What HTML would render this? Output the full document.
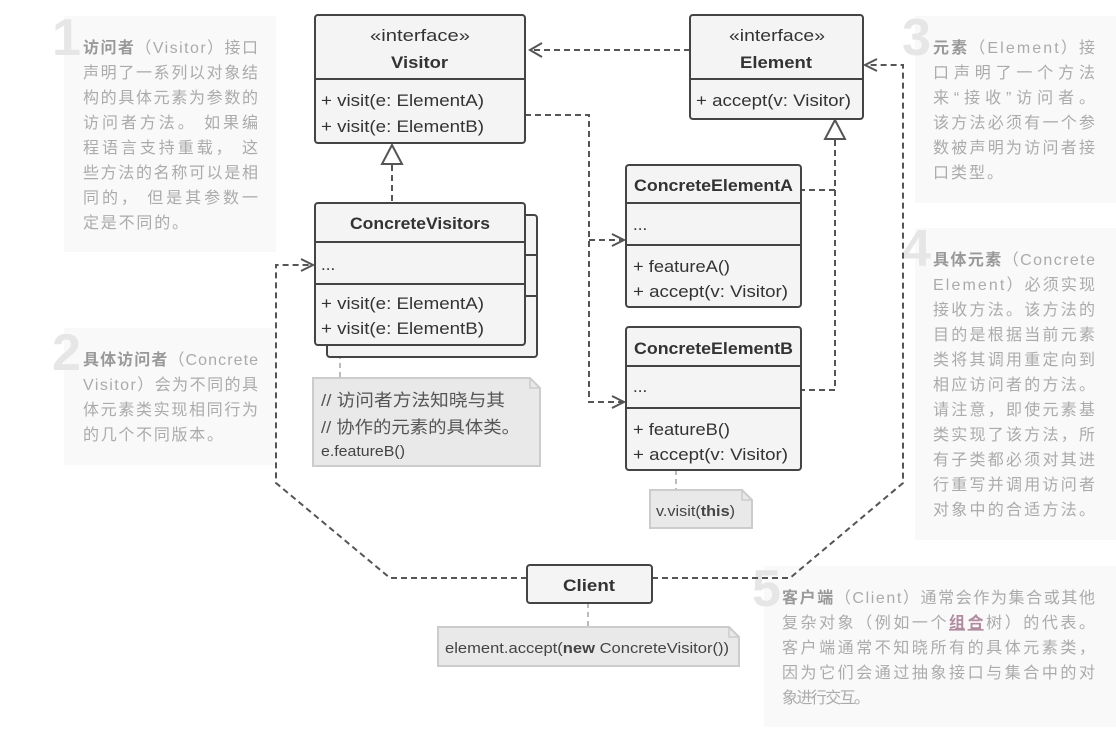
<!DOCTYPE html>
<html><head><meta charset="utf-8"><style>
html,body{margin:0;padding:0;background:#fff;}
svg{display:block;}
.t{font-family:"Liberation Sans","Noto Sans CJK SC",sans-serif;}
.box{fill:#f4f4f4;stroke:#444;stroke-width:2;}
.dl{fill:none;stroke:#555;stroke-width:2;stroke-dasharray:6 4;}
.pt{font-size:16px;fill:#ababab;}
.pb{font-weight:bold;fill:#999;}
.num{font-size:52px;font-weight:bold;fill:#e6e6e6;font-family:"Liberation Sans",sans-serif;}
.bx{font-size:17px;fill:#333;}
</style></head><body>
<svg width="1116" height="747" viewBox="0 0 1116 747" xmlns="http://www.w3.org/2000/svg" class="t">
<!-- panels -->
<rect x="64" y="16" width="212" height="236" fill="#f9f9f9"/>
<rect x="64" y="328" width="212" height="137" fill="#f9f9f9"/>
<rect x="915" y="16" width="201" height="187" fill="#f9f9f9"/>
<rect x="915" y="228" width="201" height="312" fill="#f9f9f9"/>
<rect x="764" y="566" width="352" height="161" fill="#f9f9f9"/>
<text class="num" x="52" y="55">1</text>
<text class="num" x="52" y="370">2</text>
<text class="num" x="902" y="55">3</text>
<text class="num" x="902" y="266">4</text>
<text class="num" x="752" y="606">5</text>

<g class="pt">
<text x="83" y="53" textLength="175" lengthAdjust="spacing"><tspan class="pb">访问者</tspan>（Visitor）接口</text>
<text x="83" y="78" textLength="175" lengthAdjust="spacing">声明了一系列以对象结</text>
<text x="83" y="103" textLength="175" lengthAdjust="spacing">构的具体元素为参数的</text>
<text x="83" y="128" textLength="175" lengthAdjust="spacing">访问者方法。 如果编</text>
<text x="83" y="153" textLength="175" lengthAdjust="spacing">程语言支持重载， 这</text>
<text x="83" y="178" textLength="175" lengthAdjust="spacing">些方法的名称可以是相</text>
<text x="83" y="203" textLength="175" lengthAdjust="spacing">同的， 但是其参数一</text>
<text x="83" y="228" textLength="105" lengthAdjust="spacing">定是不同的。</text>

<text x="83" y="365" textLength="175" lengthAdjust="spacing"><tspan class="pb">具体访问者</tspan>（Concrete</text>
<text x="83" y="390" textLength="175" lengthAdjust="spacing">Visitor）会为不同的具</text>
<text x="83" y="415" textLength="175" lengthAdjust="spacing">体元素类实现相同行为</text>
<text x="83" y="440" textLength="140" lengthAdjust="spacing">的几个不同版本。</text>

<text x="933" y="53" textLength="162" lengthAdjust="spacing"><tspan class="pb">元素</tspan>（Element）接</text>
<text x="933" y="78" textLength="162" lengthAdjust="spacing">口声明了一个方法</text>
<text x="933" y="103" textLength="162" lengthAdjust="spacing">来“接收”访问者。</text>
<text x="933" y="128" textLength="162" lengthAdjust="spacing">该方法必须有一个参</text>
<text x="933" y="153" textLength="162" lengthAdjust="spacing">数被声明为访问者接</text>
<text x="933" y="178" textLength="70" lengthAdjust="spacing">口类型。</text>

<text x="933" y="265" textLength="162" lengthAdjust="spacing"><tspan class="pb">具体元素</tspan>（Concrete</text>
<text x="933" y="290" textLength="162" lengthAdjust="spacing">Element）必须实现</text>
<text x="933" y="315" textLength="162" lengthAdjust="spacing">接收方法。该方法的</text>
<text x="933" y="340" textLength="162" lengthAdjust="spacing">目的是根据当前元素</text>
<text x="933" y="365" textLength="162" lengthAdjust="spacing">类将其调用重定向到</text>
<text x="933" y="390" textLength="162" lengthAdjust="spacing">相应访问者的方法。</text>
<text x="933" y="415" textLength="162" lengthAdjust="spacing">请注意，即使元素基</text>
<text x="933" y="440" textLength="162" lengthAdjust="spacing">类实现了该方法，所</text>
<text x="933" y="465" textLength="162" lengthAdjust="spacing">有子类都必须对其进</text>
<text x="933" y="490" textLength="162" lengthAdjust="spacing">行重写并调用访问者</text>
<text x="933" y="515" textLength="162" lengthAdjust="spacing">对象中的合适方法。</text>

<text x="782" y="603" textLength="313" lengthAdjust="spacing"><tspan class="pb">客户端</tspan>（Client）通常会作为集合或其他</text>
<text x="782" y="628" textLength="313" lengthAdjust="spacing">复杂对象（例如一个<tspan font-weight="bold" fill="#b08aa0" text-decoration="underline">组合</tspan>树）的代表。</text>
<text x="782" y="653" textLength="313" lengthAdjust="spacing">客户端通常不知晓所有的具体元素类，</text>
<text x="782" y="678" textLength="313" lengthAdjust="spacing">因为它们会通过抽象接口与集合中的对</text>
<text x="782" y="703" textLength="88" lengthAdjust="spacing">象进行交互。</text>
</g>

<!-- connectors -->
<path class="dl" d="M690 50 H530"/>
<path d="M542 43 L530 50 L542 57" fill="none" stroke="#555" stroke-width="2"/>
<path class="dl" d="M392 165 V203"/>
<path d="M392 145 L382 164 H402 Z" fill="#fff" stroke="#555" stroke-width="2"/>
<path class="dl" d="M835 140 V390 H802 M835 190 H802"/>
<path d="M835 120 L825 139 H845 Z" fill="#fff" stroke="#555" stroke-width="2"/>
<path class="dl" d="M525 115 H589 V402 H622 M589 240 H622"/>
<path d="M612 234 L624 240 L612 246 M612 396 L624 402 L612 408" fill="none" stroke="#555" stroke-width="2"/>
<path class="dl" d="M527 578 H390 L276 483 V265 H311"/>
<path d="M301 259 L313 265 L301 271" fill="none" stroke="#555" stroke-width="2"/>
<path class="dl" d="M652 578 H790 L903 483 V65 H867"/>
<path d="M877 59 L865 65 L877 71" fill="none" stroke="#555" stroke-width="2"/>
<path d="M340 345 V378 M676 470 V490 M588 603 V627" stroke="#bbb" stroke-width="2" stroke-dasharray="5 4"/>

<!-- Visitor -->
<rect class="box" x="315" y="15" width="210" height="128" rx="3"/>
<line x1="315" y1="79" x2="525" y2="79" stroke="#444" stroke-width="2"/>
<text class="bx" x="370" y="41" textLength="100" lengthAdjust="spacingAndGlyphs">«interface»</text>
<text class="bx" x="391" y="68" textLength="57" lengthAdjust="spacingAndGlyphs" font-weight="bold">Visitor</text>
<text class="bx" x="321" y="106" textLength="163" lengthAdjust="spacingAndGlyphs">+ visit(e: ElementA)</text>
<text class="bx" x="321" y="132" textLength="163" lengthAdjust="spacingAndGlyphs">+ visit(e: ElementB)</text>

<!-- Element -->
<rect class="box" x="690" y="15" width="173" height="104" rx="3"/>
<line x1="690" y1="79" x2="863" y2="79" stroke="#444" stroke-width="2"/>
<text class="bx" x="729" y="41" textLength="96" lengthAdjust="spacingAndGlyphs">«interface»</text>
<text class="bx" x="740" y="68" textLength="72" lengthAdjust="spacingAndGlyphs" font-weight="bold">Element</text>
<text class="bx" x="696" y="106" textLength="155" lengthAdjust="spacingAndGlyphs">+ accept(v: Visitor)</text>

<!-- ConcreteVisitors -->
<rect class="box" x="327" y="215" width="210" height="142" rx="3"/>
<line x1="525" y1="255" x2="537" y2="255" stroke="#444" stroke-width="2"/>
<line x1="525" y1="296" x2="537" y2="296" stroke="#444" stroke-width="2"/>
<rect class="box" x="315" y="203" width="210" height="142" rx="3"/>
<line x1="315" y1="242" x2="525" y2="242" stroke="#444" stroke-width="2"/>
<line x1="315" y1="284" x2="525" y2="284" stroke="#444" stroke-width="2"/>
<text class="bx" x="350" y="229" textLength="140" lengthAdjust="spacingAndGlyphs" font-weight="bold">ConcreteVisitors</text>
<text class="bx" x="321" y="270">...</text>
<text class="bx" x="321" y="309" textLength="163" lengthAdjust="spacingAndGlyphs">+ visit(e: ElementA)</text>
<text class="bx" x="321" y="334" textLength="163" lengthAdjust="spacingAndGlyphs">+ visit(e: ElementB)</text>

<!-- ConcreteElementA -->
<rect class="box" x="626" y="165" width="175" height="142" rx="3"/>
<line x1="626" y1="203" x2="801" y2="203" stroke="#444" stroke-width="2"/>
<line x1="626" y1="245" x2="801" y2="245" stroke="#444" stroke-width="2"/>
<text class="bx" x="634" y="191" textLength="159" lengthAdjust="spacingAndGlyphs" font-weight="bold">ConcreteElementA</text>
<text class="bx" x="633" y="230">...</text>
<text class="bx" x="633" y="272" textLength="97" lengthAdjust="spacingAndGlyphs">+ featureA()</text>
<text class="bx" x="633" y="297" textLength="155" lengthAdjust="spacingAndGlyphs">+ accept(v: Visitor)</text>

<!-- ConcreteElementB -->
<rect class="box" x="626" y="327" width="175" height="143" rx="3"/>
<line x1="626" y1="366" x2="801" y2="366" stroke="#444" stroke-width="2"/>
<line x1="626" y1="408" x2="801" y2="408" stroke="#444" stroke-width="2"/>
<text class="bx" x="634" y="354" textLength="159" lengthAdjust="spacingAndGlyphs" font-weight="bold">ConcreteElementB</text>
<text class="bx" x="633" y="392">...</text>
<text class="bx" x="633" y="435" textLength="97" lengthAdjust="spacingAndGlyphs">+ featureB()</text>
<text class="bx" x="633" y="460" textLength="155" lengthAdjust="spacingAndGlyphs">+ accept(v: Visitor)</text>

<!-- Client -->
<rect class="box" x="527" y="565" width="125" height="38" rx="3"/>
<text class="bx" x="563" y="591" textLength="52" lengthAdjust="spacingAndGlyphs" font-weight="bold">Client</text>

<!-- notes -->
<path d="M313 378 H530 L540 388 V466 H313 Z" fill="#e9e9e9" stroke="#ccc" stroke-width="2"/>
<path d="M530 378 V388 H540" fill="none" stroke="#ccc" stroke-width="1.5"/>
<text x="321" y="406" font-size="17" fill="#555" textLength="184" lengthAdjust="spacingAndGlyphs">// 访问者方法知晓与其</text>
<text x="321" y="433" font-size="17" fill="#555" textLength="199" lengthAdjust="spacingAndGlyphs">// 协作的元素的具体类。</text>
<text x="321" y="456" font-size="15" fill="#444" textLength="84" lengthAdjust="spacingAndGlyphs">e.featureB()</text>

<path d="M650 490 H742 L752 500 V528 H650 Z" fill="#e9e9e9" stroke="#ccc" stroke-width="2"/>
<path d="M742 490 V500 H752" fill="none" stroke="#ccc" stroke-width="1.5"/>
<text x="656" y="516" font-size="15" fill="#444" textLength="79" lengthAdjust="spacingAndGlyphs">v.visit(<tspan font-weight="bold">this</tspan>)</text>

<path d="M438 627 H729 L739 637 V666 H438 Z" fill="#e9e9e9" stroke="#ccc" stroke-width="2"/>
<path d="M729 627 V637 H739" fill="none" stroke="#ccc" stroke-width="1.5"/>
<text x="445" y="653" font-size="15" fill="#444" textLength="284" lengthAdjust="spacingAndGlyphs">element.accept(<tspan font-weight="bold">new</tspan> ConcreteVisitor())</text>
</svg>
</body></html>
